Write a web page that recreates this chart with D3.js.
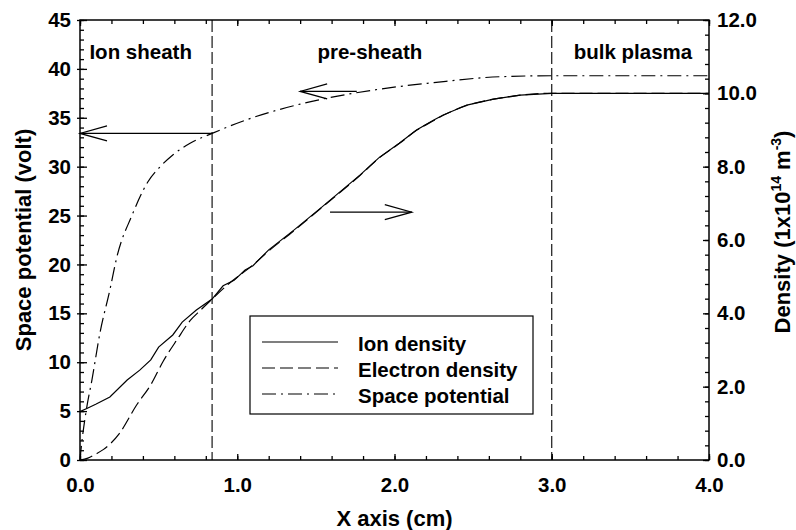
<!DOCTYPE html>
<html lang="en">
<head>
<meta charset="utf-8">
<title>Sheath profile</title>
<script src="https://d3js.org/d3.v7.min.js"></script>
<style>
    body { margin: 0; background: #fff; }
    * { font-family: "Liberation Sans", Arial, Helvetica, sans-serif; }
    text { font-weight: bold; fill: #000; }
    .tick text { font-size: 20.5px; }
    .curve { fill: none; stroke: #000; stroke-width: 1.2; }
</style>
</head>
<body>
<svg id="chart"></svg>
<script>
// ion density (1e14 m^-3), right axis
const xIon = [0, 0.05, 0.1, 0.19, 0.3, 0.38, 0.45, 0.5, 0.59, 0.65, 0.74, 0.84, 0.91, 0.98, 1.05, 1.1, 1.2,
              1.36, 1.53, 1.78, 1.9, 2.03, 2.14, 2.25, 2.31, 2.46, 2.63, 2.8, 3.0, 3.5, 4.0];
const ionDensity = [1.32, 1.42, 1.52, 1.72, 2.18, 2.45, 2.73, 3.08, 3.41, 3.76, 4.09, 4.39, 4.75, 4.9, 5.18, 5.3, 5.73,
                    6.27, 6.87, 7.77, 8.24, 8.64, 9.0, 9.27, 9.41, 9.68, 9.84, 9.95, 10.0, 10.0, 10.0];

// electron density (1e14 m^-3), right axis
const xElectron = [0, 0.05, 0.1, 0.15, 0.25, 0.36, 0.45, 0.53, 0.62, 0.7, 0.77, 0.84, 0.95, 1.1, 1.2,
                   1.36, 1.53, 1.78, 1.9, 2.03, 2.14, 2.25, 2.31, 2.46, 2.63, 2.8, 3.0, 3.5, 4.0];
const electronDensity = [0, 0.05, 0.16, 0.29, 0.72, 1.5, 2.05, 2.7, 3.3, 3.8, 4.1, 4.39, 4.82, 5.32, 5.7,
                         6.25, 6.86, 7.76, 8.23, 8.63, 8.99, 9.26, 9.4, 9.67, 9.84, 9.95, 10.0, 10.0, 10.0];

// space potential (volt), left axis
const xPot = [0, 0.006, 0.04, 0.076, 0.127, 0.19, 0.235, 0.33, 0.43, 0.51, 0.59, 0.7, 0.84, 1.06, 1.4, 1.7,
              2.03, 2.25, 2.67, 3.0, 4.0];
const potential = [0, 1, 5.1, 8.2, 13, 17.4, 20.8, 25, 28.4, 30, 31.2, 32.4, 33.4, 34.8, 36.4, 37.4,
                   38.2, 38.6, 39.2, 39.3, 39.3];

const xTicks = [0, 1, 2, 3, 4];
const leftTicks = [0, 5, 10, 15, 20, 25, 30, 35, 40, 45];
const rightTicks = [0, 2, 4, 6, 8, 10, 12];
const boundaries = [0.84, 3.0];
const regions = ["Ion sheath", "pre-sheath", "bulk plasma"];
const regionX = [0.06, 1.51, 3.14];
const legendLabels = ["Ion density", "Electron density", "Space potential"];
const dashes = [null, "13,5", "14,5,2,5"];

const W = 796, H = 530;
const margin = {top: 20, right: 87, bottom: 70, left: 80};
const width = W - margin.left - margin.right,
      height = H - margin.top - margin.bottom;

const svg = d3.select("#chart").attr("width", W).attr("height", H);
const g = svg.append("g").attr("transform", "translate(" + margin.left + "," + margin.top + ")");

const x = d3.scaleLinear().domain([0, 4]).range([0, width]);
const yL = d3.scaleLinear().domain([0, 45]).range([height, 0]);
const yR = d3.scaleLinear().domain([0, 12]).range([height, 0]);

// axes: major with labels, minor without
function addAxis(axis, tr) {
    const a = g.append("g").attr("transform", tr || null).call(axis);
    a.select(".domain").remove();
    a.selectAll(".tick line").attr("stroke", "#000").attr("stroke-width", 1.3);
    return a;
}
const minorX = d3.range(0, 4.01, 0.2);
const minorL = d3.range(0, 45.01, 1);
const minorR = d3.range(0, 12.01, 0.4);

addAxis(d3.axisBottom(x).tickValues(xTicks).tickFormat(d3.format(".1f")).tickSize(-6).tickPadding(17),
        "translate(0," + height + ")");
addAxis(d3.axisBottom(x).tickValues(minorX).tickFormat("").tickSize(-4), "translate(0," + height + ")");
addAxis(d3.axisTop(x).tickValues(xTicks).tickFormat("").tickSize(-6));
addAxis(d3.axisTop(x).tickValues(minorX).tickFormat("").tickSize(-4));
addAxis(d3.axisLeft(yL).tickValues(leftTicks).tickFormat(d3.format("d")).tickSize(-7).tickPadding(9))
    .selectAll(".tick line").attr("x1", -3);
addAxis(d3.axisLeft(yL).tickValues(minorL).tickFormat("").tickSize(-4));
addAxis(d3.axisRight(yR).tickValues(rightTicks).tickFormat(d3.format(".1f")).tickSize(-6).tickPadding(8),
        "translate(" + width + ",0)");
addAxis(d3.axisRight(yR).tickValues(minorR).tickFormat("").tickSize(-4), "translate(" + width + ",0)");

// frame
g.append("rect").attr("width", width).attr("height", height)
    .attr("fill", "none").attr("stroke", "#000").attr("stroke-width", 1.5);

// region boundaries
g.selectAll(".boundary").data(boundaries).enter().append("line")
    .attr("x1", d => x(d)).attr("x2", d => x(d))
    .attr("y1", 0).attr("y2", height)
    .attr("stroke", "#000").attr("stroke-width", 1.1).attr("stroke-dasharray", "12,4");

g.selectAll(".region").data(regions).enter().append("text")
    .attr("x", (d, i) => x(regionX[i])).attr("y", 39)
    .style("font-size", "20.5px").text(d => d);

// curves
const lineR = (xs, ys, c) => d3.line().curve(c || d3.curveLinear).x((d, i) => x(xs[i])).y(d => yR(d))(ys);
const lineL = (xs, ys, c) => d3.line().curve(c || d3.curveLinear).x((d, i) => x(xs[i])).y(d => yL(d))(ys);

g.append("path").attr("class", "curve").attr("d", lineR(xElectron, electronDensity, d3.curveMonotoneX))
    .attr("stroke-dasharray", dashes[1]);
g.append("path").attr("class", "curve").attr("d", lineR(xIon, ionDensity));
g.append("path").attr("class", "curve").attr("d", lineL(xPot, potential, d3.curveMonotoneX))
    .attr("stroke-dasharray", dashes[2]);

// arrows: [x from, x to, value, scale]
const arrows = [
    {x0: 0.84, x1: 0, v: 33.4, s: yL},
    {x0: 1.76, x1: 1.40, v: 37.7, s: yL},
    {x0: 1.59, x1: 2.11, v: 6.76, s: yR}
];
arrows.forEach(a => {
    const px0 = x(a.x0), px1 = x(a.x1), py = a.s(a.v);
    const dir = px1 > px0 ? -1 : 1;
    g.append("line").attr("x1", px0).attr("x2", px1).attr("y1", py).attr("y2", py)
        .attr("stroke", "#000").attr("stroke-width", 1.2);
    g.append("path").attr("fill", "none").attr("stroke", "#000").attr("stroke-width", 1.2)
        .attr("d", "M" + (px1 + dir * 27) + "," + (py - 7.5) + "L" + px1 + "," + py + "L" + (px1 + dir * 27) + "," + (py + 7.5));
});

// legend
const lg = svg.append("g").attr("transform", "translate(250,316)");
lg.append("rect").attr("width", 283).attr("height", 98)
    .attr("fill", "#fff").attr("stroke", "#000").attr("stroke-width", 1.2);
legendLabels.forEach((lab, i) => {
    const yy = 26 + i * 26;
    lg.append("line").attr("x1", 12).attr("x2", 88).attr("y1", yy).attr("y2", yy)
        .attr("stroke", "#000").attr("stroke-width", 1.2).attr("stroke-dasharray", dashes[i]);
    lg.append("text").attr("x", 108).attr("y", yy + 9).style("font-size", "20.5px").text(lab);
});

// axis titles
svg.append("text").attr("x", margin.left + width / 2).attr("y", 526)
    .attr("text-anchor", "middle").style("font-size", "22px").text("X axis (cm)");
svg.append("text").attr("transform", "translate(31," + (margin.top + height / 2) + ") rotate(-90)")
    .attr("text-anchor", "middle").style("font-size", "22px").text("Space potential (volt)");
const rt = svg.append("text").attr("transform", "translate(790," + 232 + ") rotate(-90)")
    .attr("text-anchor", "middle").style("font-size", "22px");
rt.append("tspan").text("Density (1x10");
rt.append("tspan").attr("dy", -9).style("font-size", "14px").text("14");
rt.append("tspan").attr("dy", 9).text(" m");
rt.append("tspan").attr("dy", -9).style("font-size", "14px").text("-3");
rt.append("tspan").attr("dy", 9).text(")");
</script>
</body>
</html>
